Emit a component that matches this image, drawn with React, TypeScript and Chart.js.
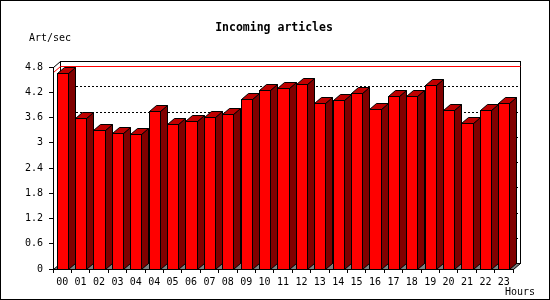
import React, { useEffect, useRef } from "react";
import { Chart, registerables } from "chart.js";

Chart.register(...registerables);

const categories = ["00", "01", "02", "03", "04", "04", "05", "06", "07", "08", "09", "10", "11", "12", "13", "14", "15", "16", "17", "18", "19", "20", "21", "22", "23"];
const artPerSec = [4.66, 3.59, 3.30, 3.23, 3.21, 3.75, 3.44, 3.52, 3.61, 3.68, 4.04, 4.25, 4.30, 4.39, 3.94, 4.01, 4.18, 3.80, 4.11, 4.11, 4.37, 3.78, 3.47, 3.78, 3.94];
const yTicks = [0, 0.6, 1.2, 1.8, 2.4, 3, 3.6, 4.2, 4.8];
const peakLine = 4.69;
const titleText = "Incoming articles";
const yAxisTitle = "Art/sec";
const xAxisTitle = "Hours";

const DX = 7;
const DY = 6;
const MONO = "'DejaVu Sans Mono', monospace";

const threeD = {
  id: "threeD",
  beforeDraw(chart: any) {
    const { ctx, chartArea: a, scales } = chart;
    const y = scales.y;
    const L = Math.round(a.left), R = Math.round(a.right), T = Math.round(a.top), B = Math.round(a.bottom);
    ctx.save();
    ctx.fillStyle = "#ffffff";
    ctx.fillRect(0, 0, chart.width, chart.height);
    ctx.strokeStyle = "#000";
    ctx.lineWidth = 1;
    ctx.strokeRect(0.5, 0.5, chart.width - 1, chart.height - 1);
    // back frame
    ctx.strokeRect(L + DX + 0.5, T - DY + 0.5, R - L, B - T);
    // dotted grid on back plane
    ctx.setLineDash([2, 2]);
    yTicks.forEach((v) => {
      if (v <= yTicks[0] || v >= yTicks[yTicks.length - 1]) return;
      const yy = Math.round(y.getPixelForValue(v)) - DY + 0.5;
      ctx.beginPath();
      ctx.moveTo(L + DX, yy);
      ctx.lineTo(R + DX, yy);
      ctx.stroke();
    });
    ctx.setLineDash([]);
    // peak line (red)
    const yp = Math.round(y.getPixelForValue(peakLine));
    ctx.strokeStyle = "#ff0000";
    ctx.beginPath();
    ctx.moveTo(L + 0.5, yp + 0.5);
    ctx.lineTo(L + DX + 0.5, yp - DY + 0.5);
    ctx.lineTo(R + DX + 0.5, yp - DY + 0.5);
    ctx.stroke();
    // left wall top edge
    ctx.strokeStyle = "#000";
    ctx.beginPath();
    ctx.moveTo(L + 0.5, T + 0.5);
    ctx.lineTo(L + DX + 0.5, T - DY + 0.5);
    ctx.stroke();
    // floor
    ctx.beginPath();
    ctx.moveTo(L + 0.5, B + 0.5);
    ctx.lineTo(L + DX + 0.5, B - DY + 0.5);
    ctx.lineTo(R + DX + 0.5, B - DY + 0.5);
    ctx.lineTo(R + 0.5, B + 0.5);
    ctx.closePath();
    ctx.fillStyle = "#808080";
    ctx.fill();
    ctx.stroke();
    ctx.restore();
  },
  afterDatasetsDraw(chart: any) {
    const { ctx } = chart;
    const meta = chart.getDatasetMeta(0);
    ctx.save();
    ctx.lineWidth = 1;
    ctx.strokeStyle = "#000";
    meta.data.forEach((el: any) => {
      const xl = Math.round(el.x - el.width / 2);
      const xr = Math.round(el.x + el.width / 2);
      const yt = Math.round(el.y);
      const yb = Math.round(el.base);
      // side
      ctx.beginPath();
      ctx.moveTo(xr + 0.5, yt + 0.5);
      ctx.lineTo(xr + DX + 0.5, yt - DY + 0.5);
      ctx.lineTo(xr + DX + 0.5, yb - DY + 0.5);
      ctx.lineTo(xr + 0.5, yb + 0.5);
      ctx.closePath();
      ctx.fillStyle = "#800000";
      ctx.fill();
      ctx.stroke();
      // top
      ctx.beginPath();
      ctx.moveTo(xl + 0.5, yt + 0.5);
      ctx.lineTo(xl + DX + 0.5, yt - DY + 0.5);
      ctx.lineTo(xr + DX + 0.5, yt - DY + 0.5);
      ctx.lineTo(xr + 0.5, yt + 0.5);
      ctx.closePath();
      ctx.fillStyle = "#c00000";
      ctx.fill();
      ctx.stroke();
      // front
      ctx.fillStyle = "#ff0000";
      ctx.fillRect(xl, yt, xr - xl, yb - yt);
      ctx.strokeRect(xl + 0.5, yt + 0.5, xr - xl, yb - yt);
    });
    ctx.restore();
  },
  afterDraw(chart: any) {
    const { ctx } = chart;
    ctx.save();
    ctx.fillStyle = "#000";
    ctx.textBaseline = "middle";
    ctx.font = `bold 11.5px ${MONO}`;
    ctx.textAlign = "center";
    ctx.fillText(titleText, 274, 28);
    ctx.font = `10px ${MONO}`;
    ctx.textAlign = "left";
    ctx.fillText(yAxisTitle, 29, 38.5);
    ctx.textAlign = "right";
    ctx.fillText(xAxisTitle, 535, 292);
    ctx.restore();
  },
};

export default function App() {
  const ref = useRef<HTMLCanvasElement | null>(null);
  useEffect(() => {
    if (!ref.current) return;
    const chart = new Chart(ref.current, {
      type: "bar",
      data: {
        labels: categories,
        datasets: [
          {
            label: "Art/sec",
            data: artPerSec,
            backgroundColor: "rgba(0,0,0,0)",
            borderWidth: 0,
            barPercentage: 0.6,
            categoryPercentage: 1,
          },
        ],
      },
      options: {
        responsive: false,
        animation: false,
        devicePixelRatio: 1,
        events: [],
        layout: { padding: { top: 67, right: 37, left: 0, bottom: 0 } },
        plugins: { legend: { display: false }, tooltip: { enabled: false }, title: { display: false } },
        scales: {
          x: {
            offset: true,
            grid: { display: true, drawOnChartArea: false, drawTicks: true, tickLength: 4, color: "#000", offset: true },
            border: { display: true, color: "#000" },
            ticks: { color: "#000", font: { family: MONO, size: 10 }, padding: 3, maxRotation: 0, autoSkip: false },
            afterFit: (axis: any) => { axis.height = 31; },
          },
          y: {
            min: 0,
            max: 4.8,
            afterBuildTicks: (axis: any) => { axis.ticks = yTicks.map((v) => ({ value: v })); },
            grid: { display: true, drawOnChartArea: false, drawTicks: true, tickLength: 4, color: "#000" },
            border: { display: true, color: "#000" },
            ticks: { color: "#000", font: { family: MONO, size: 10 }, padding: 6, callback: (v: any) => String(v) },
            afterFit: (axis: any) => { axis.width = 53; },
          },
        },
      },
      plugins: [threeD],
    });
    return () => chart.destroy();
  }, []);
  return (
    <div style={{ position: "fixed", left: 0, top: 0, width: 550, height: 300 }}>
      <canvas ref={ref} width={550} height={300} style={{ display: "block", width: 550, height: 300 }} />
    </div>
  );
}
